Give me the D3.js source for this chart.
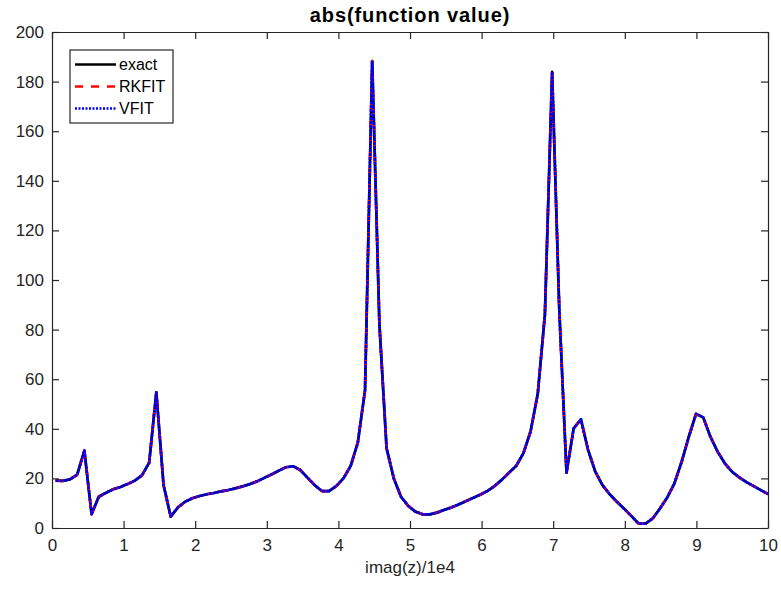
<!DOCTYPE html>
<html lang="en">
<head>
    <meta charset="UTF-8">
    <title>abs(function value)</title>
    <script src="https://d3js.org/d3.v7.min.js"></script>
    <style>
        body { margin: 0; background: #fff; }
        text { font-family: Arial, "Liberation Sans", Helvetica, sans-serif; fill: #262626; }
    </style>
</head>
<body>
<svg width="781" height="592"></svg>
<script>
// sample points, imag(z)/1e4
var xValues = [
    0.050, 0.151, 0.251, 0.352, 0.452, 0.553, 0.653, 0.754, 0.854, 0.955,
    1.055, 1.156, 1.256, 1.357, 1.457, 1.558, 1.658, 1.759, 1.859, 1.960,
    2.060, 2.161, 2.261, 2.362, 2.462, 2.563, 2.663, 2.764, 2.864, 2.965,
    3.065, 3.166, 3.266, 3.367, 3.467, 3.568, 3.668, 3.769, 3.869, 3.970,
    4.070, 4.171, 4.271, 4.372, 4.472, 4.573, 4.673, 4.774, 4.874, 4.975,
    5.075, 5.176, 5.276, 5.377, 5.477, 5.578, 5.678, 5.779, 5.879, 5.980,
    6.080, 6.181, 6.281, 6.382, 6.482, 6.583, 6.683, 6.784, 6.884, 6.985,
    7.085, 7.186, 7.286, 7.387, 7.487, 7.588, 7.688, 7.789, 7.889, 7.990,
    8.090, 8.191, 8.291, 8.392, 8.492, 8.593, 8.693, 8.794, 8.894, 8.995,
    9.095, 9.196, 9.296, 9.397, 9.497, 9.598, 9.698, 9.799, 9.899, 10.000
];

// |f|
var exactValues = [
    19.1, 19.0, 19.6, 21.5, 31.2, 5.6, 12.6, 14.2, 15.6, 16.5,
    17.7, 19.1, 21.2, 26.3, 54.7, 17.3, 4.6, 8.3, 10.6, 12.0,
    12.9, 13.6, 14.1, 14.8, 15.3, 16.0, 16.8, 17.7, 18.8, 20.2,
    21.6, 23.1, 24.5, 24.9, 23.4, 20.3, 17.3, 14.9, 14.9, 16.9,
    20.0, 25.0, 34.4, 55.6, 188.3, 82.0, 32.1, 20.0, 12.6, 8.9,
    6.6, 5.5, 5.5, 6.2, 7.3, 8.3, 9.5, 10.8, 12.1, 13.4,
    14.9, 16.9, 19.4, 22.3, 25.0, 30.1, 38.8, 54.0, 86.0, 183.9,
    88.0, 22.3, 40.2, 43.8, 31.5, 22.7, 17.3, 13.6, 10.6, 7.8,
    4.9, 1.8, 1.8, 3.9, 7.9, 12.3, 18.0, 26.7, 36.8, 46.0,
    44.6, 36.8, 30.8, 26.1, 22.7, 20.4, 18.5, 16.9, 15.3, 13.7
];
// the two fits lie on top of the exact curve at this scale
var rkfitValues = exactValues.slice();
var vfitValues = exactValues.slice();

var xTicks = d3.range(0, 11, 1);
var yTicks = d3.range(0, 201, 20);
var seriesNames = ["exact", "RKFIT", "VFIT"];

var svg = d3.select("svg"),
    margin = {top: 32, right: 13, bottom: 64, left: 52},
    width = +svg.attr("width") - margin.left - margin.right,
    height = +svg.attr("height") - margin.top - margin.bottom;

var x = d3.scaleLinear().domain([0, 10]).range([0, width]);
var y = d3.scaleLinear().domain([0, 200]).range([height, 0]);

var g = svg.append("g").attr("transform", "translate(" + margin.left + "," + margin.top + ")");

var axisColor = "#262626";
var fontSize = 17;

// lines first, axes box on top
var line = d3.line()
    .x(function(d) { return x(d[0]); })
    .y(function(d) { return y(d[1]); });

var styles = [
    {values: exactValues, color: "#000000", dash: null},
    {values: rkfitValues, color: "#ff0000", dash: "8,8"},
    {values: vfitValues, color: "#0000ff", dash: "3,1"}
];

styles.forEach(function(s) {
    g.append("path")
        .datum(d3.zip(xValues, s.values))
        .attr("fill", "none")
        .attr("stroke", s.color)
        .attr("stroke-width", 2.7)
        .attr("stroke-dasharray", s.dash)
        .attr("stroke-linejoin", "round")
        .attr("d", line);
});

function styleAxis(sel, showText) {
    sel.selectAll(".domain").attr("stroke", axisColor).attr("stroke-width", 1.2);
    sel.selectAll(".tick line").attr("stroke", axisColor).attr("stroke-width", 1.2);
    sel.selectAll(".tick text")
        .attr("font-size", fontSize)
        .attr("font-family", "Arial, 'Liberation Sans', sans-serif")
        .attr("fill", axisColor);
    if (!showText) sel.selectAll(".tick text").remove();
}

g.append("g")
    .attr("transform", "translate(0," + height + ")")
    .call(d3.axisBottom(x).tickValues(xTicks).tickSizeInner(-7).tickSizeOuter(0).tickPadding(11))
    .call(styleAxis, true);

g.append("g")
    .call(d3.axisTop(x).tickValues(xTicks).tickSizeInner(-7).tickSizeOuter(0))
    .call(styleAxis, false);

g.append("g")
    .call(d3.axisLeft(y).tickValues(yTicks).tickSizeInner(-7).tickSizeOuter(0).tickPadding(8))
    .call(styleAxis, true);

g.append("g")
    .attr("transform", "translate(" + width + ",0)")
    .call(d3.axisRight(y).tickValues(yTicks).tickSizeInner(-7).tickSizeOuter(0))
    .call(styleAxis, false);

// title and x label
svg.append("text")
    .attr("x", margin.left + width / 2)
    .attr("y", 22)
    .attr("text-anchor", "middle")
    .attr("font-size", 20)
    .attr("font-weight", "bold")
    .attr("letter-spacing", 0.9)
    .style("fill", "#000")
    .text("abs(function value)");

svg.append("text")
    .attr("x", margin.left + width / 2)
    .attr("y", 573)
    .attr("text-anchor", "middle")
    .attr("font-size", fontSize)
    .text("imag(z)/1e4");

// legend
var legend = svg.append("g").attr("transform", "translate(70,50)");
legend.append("rect")
    .attr("width", 103)
    .attr("height", 73)
    .attr("fill", "#fff")
    .attr("stroke", axisColor)
    .attr("stroke-width", 1.2);

var legendRows = legend.selectAll("g.row")
    .data(styles)
    .enter().append("g")
    .attr("class", "row")
    .attr("transform", function(d, i) { return "translate(0," + (14.5 + i * 22) + ")"; });

legendRows.append("line")
    .attr("x1", 5).attr("x2", 46)
    .attr("stroke", function(d) { return d.color; })
    .attr("stroke-width", 2.6)
    .attr("stroke-dasharray", function(d, i) { return i === 2 ? "2,1.5" : d.dash; });

legendRows.append("text")
    .attr("x", 49)
    .attr("dy", "0.36em")
    .attr("font-size", 16)
    .style("fill", "#000")
    .text(function(d, i) { return seriesNames[i]; });
</script>
</body>
</html>
